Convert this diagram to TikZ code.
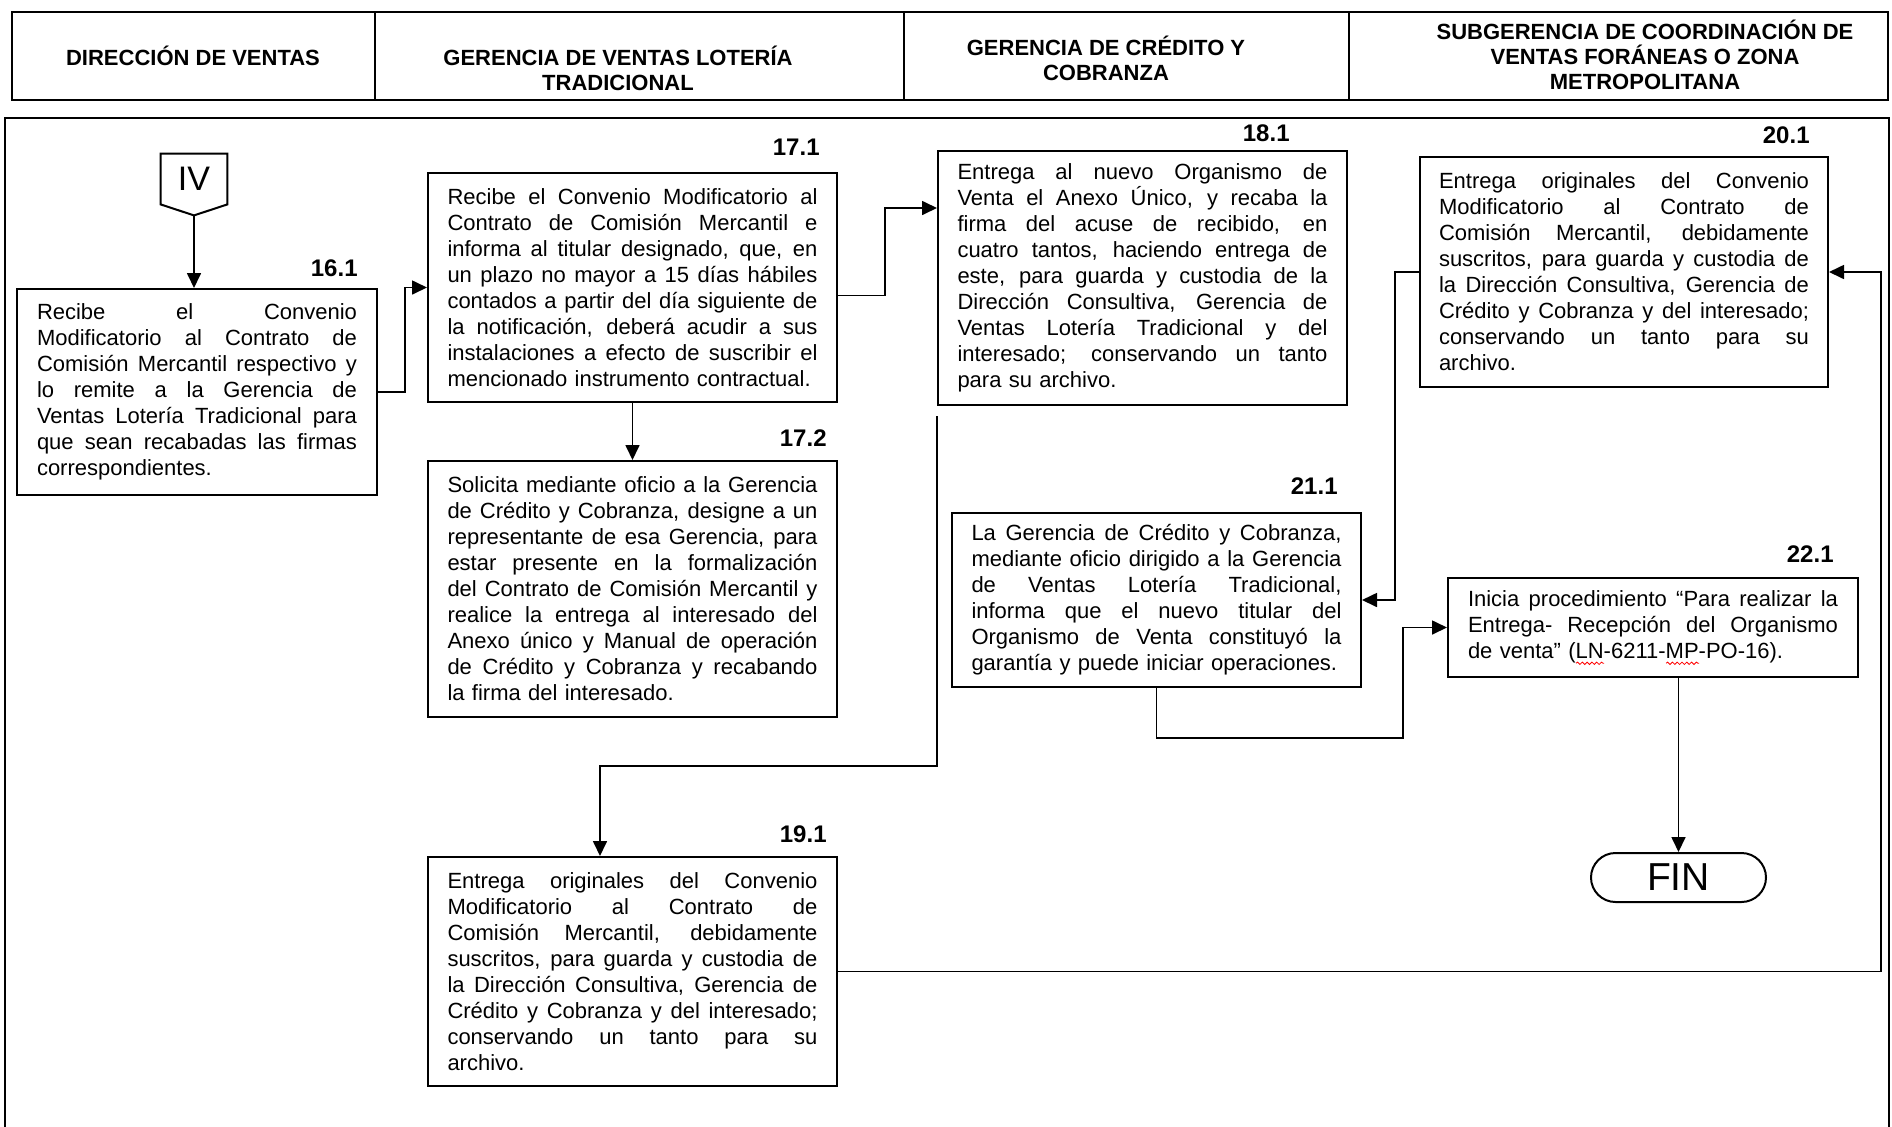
\documentclass[tikz,border=0pt]{standalone}
\usepackage{fontspec}
\setmainfont{Liberation Sans}
\usetikzlibrary{arrows.meta,shapes.misc,calc,decorations.pathmorphing}
\setlength\parindent{0pt}
\newlength\rwlen
\newlength\tw
\setlength\tw{185pt}
\newcommand\redwave[1]{\settowidth\rwlen{#1}\rlap{\tikz[baseline=0pt,x=1pt,y=1pt]\draw[red,line width=0.4pt,decorate,decoration={snake,amplitude=0.6pt,segment length=2.4pt}] (0pt,-2.6pt) -- (\rwlen,-2.6pt);}#1}
\newcommand\jl[1]{\leavevmode\hbox to \tw{\spaceskip=0pt\xspaceskip=0pt #1}\\}
\tikzset{
  box/.style={draw, line width=1pt, inner xsep=0pt, inner ysep=0pt, text width=185pt,
    minimum width=204.5pt, font=\fontsize{11}{13}\selectfont},
  lbl/.style={font=\bfseries\fontsize{12}{14}\selectfont, anchor=east, inner sep=0pt},
  hdr/.style={font=\bfseries\fontsize{11}{12.5}\selectfont, align=center, inner sep=0pt},
  arr/.style={line width=0.85pt, -{Triangle[length=7.5pt,width=7pt]}},
  frameline/.style={line width=1.2pt}
}
\begin{document}
\begin{tikzpicture}[x=0.5pt, y=-0.5pt]
\useasboundingbox (0,0) rectangle (1892,1126);

% header
\draw[frameline] (12,12) rectangle (1888,100);
\draw[frameline] (375,12) -- (375,100);
\draw[frameline] (904,12) -- (904,100);
\draw[frameline] (1349,12) -- (1349,100);
\node[hdr] (h1) at (193,56) {DIRECCIÓN DE VENTAS};
\node[hdr] (h2) at (618,68) {GERENCIA DE VENTAS LOTERÍA\\TRADICIONAL};
\node[hdr] (h3) at (1106,58) {GERENCIA DE CRÉDITO Y\\COBRANZA};
\node[hdr] (h4) at (1645,55) {SUBGERENCIA DE COORDINACIÓN DE\\VENTAS FORÁNEAS O ZONA\\METROPOLITANA};

% main frame
\draw[frameline] (5,1140) -- (5,118) -- (1889,118) -- (1889,1140);

% connector IV
\node[font=\fontsize{17}{17}\selectfont, inner sep=0pt, minimum width=33pt, minimum height=25pt] (IV) at (194,179) {IV};
\draw[line width=1pt] (IV.north west) -- (IV.north east) -- (IV.south east) -- ([yshift=-5.5pt]IV.south) -- (IV.south west) -- cycle;
\coordinate (IVtip) at ([yshift=-5.5pt]IV.south);

% boxes
\node[box, text width=160pt, minimum width=180pt, minimum height=103pt] (n161) at (197,392)
{\setlength\tw{160pt}\jl{Recibe el Convenio}\jl{Modificatorio al Contrato de}\jl{Comisión Mercantil respectivo y}\jl{lo remite a la Gerencia de}\jl{Ventas Lotería Tradicional para}\jl{que sean recabadas las firmas}correspondientes.};

\node[box, minimum height=114.5pt] (n171) at (632.5,287.5)
{\jl{Recibe el Convenio Modificatorio al}\jl{Contrato de Comisión Mercantil e}\jl{informa al titular designado, que, en}\jl{un plazo no mayor a 15 días hábiles}\jl{contados a partir del día siguiente de}\jl{la notificación, deberá acudir a sus}\jl{instalaciones a efecto de suscribir el}mencionado instrumento contractual.};

\node[box, minimum height=128pt] (n172) at (632.5,589)
{\jl{Solicita mediante oficio a la Gerencia}\jl{de Crédito y Cobranza, designe a un}\jl{representante de esa Gerencia, para}\jl{estar presente en la formalización}\jl{del Contrato de Comisión Mercantil y}\jl{realice la entrega al interesado del}\jl{Anexo único y Manual de operación}\jl{de Crédito y Cobranza y recabando}la firma del interesado.};

\node[box, minimum height=127pt] (n181) at (1142.5,278)
{\jl{Entrega al nuevo Organismo de}\jl{Venta el Anexo Único, y recaba la}\jl{firma del acuse de recibido, en}\jl{cuatro tantos, haciendo entrega de}\jl{este, para guarda y custodia de la}\jl{Dirección Consultiva, Gerencia de}\jl{Ventas Lotería Tradicional y del}\jl{interesado; conservando un tanto}para su archivo.};

\node[box, minimum height=114.5pt] (n191) at (632.5,971.5)
{\jl{Entrega originales del Convenio}\jl{Modificatorio al Contrato de}\jl{Comisión Mercantil, debidamente}\jl{suscritos, para guarda y custodia de}\jl{la Dirección Consultiva, Gerencia de}\jl{Crédito y Cobranza y del interesado;}\jl{conservando un tanto para su}archivo.};

\node[box, minimum width=204pt, minimum height=115pt] (n201) at (1624,272)
{\jl{Entrega originales del Convenio}\jl{Modificatorio al Contrato de}\jl{Comisión Mercantil, debidamente}\jl{suscritos, para guarda y custodia de}\jl{la Dirección Consultiva, Gerencia de}\jl{Crédito y Cobranza y del interesado;}\jl{conservando un tanto para su}archivo.};

\node[box, minimum height=87pt] (n211) at (1156.5,600)
{\jl{La Gerencia de Crédito y Cobranza,}\jl{mediante oficio dirigido a la Gerencia}\jl{de Ventas Lotería Tradicional,}\jl{informa que el nuevo titular del}\jl{Organismo de Venta constituyó la}garantía y puede iniciar operaciones.};

\node[box, minimum width=205pt, minimum height=49.5pt] (n221) at (1653,627.5)
{\jl{Inicia procedimiento “Para realizar la}\jl{Entrega- Recepción del Organismo}de venta” (\redwave{LN}-6211-\redwave{MP}-PO-16).};

\node[draw, rounded rectangle, line width=1pt, minimum width=87.5pt, minimum height=24.5pt, inner sep=0pt, font=\fontsize{19.5}{20}\selectfont] (fin) at (1678.5,877.5) {FIN};

% step labels
\node[lbl] (l161) at (358,268) {16.1};
\node[lbl] (l171) at (820,147) {17.1};
\node[lbl] (l172) at (827,438) {17.2};
\node[lbl] (l181) at (1290,133) {18.1};
\node[lbl] (l191) at (827,834) {19.1};
\node[lbl] (l201) at (1810,135) {20.1};
\node[lbl] (l211) at (1338,486) {21.1};
\node[lbl] (l221) at (1834,554) {22.1};

% connectors
\draw[arr] (IVtip) -- (IVtip |- n161.north);
\draw[arr] (n161.east) -- ++(27,0) |- (n171.west);
\draw[arr] ([yshift=-4pt]n171.east) -- ++(47,0) |- ([yshift=-29pt]n181.north west);
\draw[arr] (n171.south) -- (n172.north);
\draw[arr] ([yshift=-5pt]n181.south west) -- ++(0,350) -| ([xshift=-16.25pt]n191.north);
\draw[arr] (n191.east) -- ++(1043,0) |- (n201.east);
\draw[arr] (n201.west) -- ++(-24,0) |- (n211.east);
\draw[arr] (n211.south) -- ++(0,50) -- ++(246.5,0) |- (n221.west);
\draw[arr] (fin.north |- n221.south) -- (fin.north);
\end{tikzpicture}
\end{document}
